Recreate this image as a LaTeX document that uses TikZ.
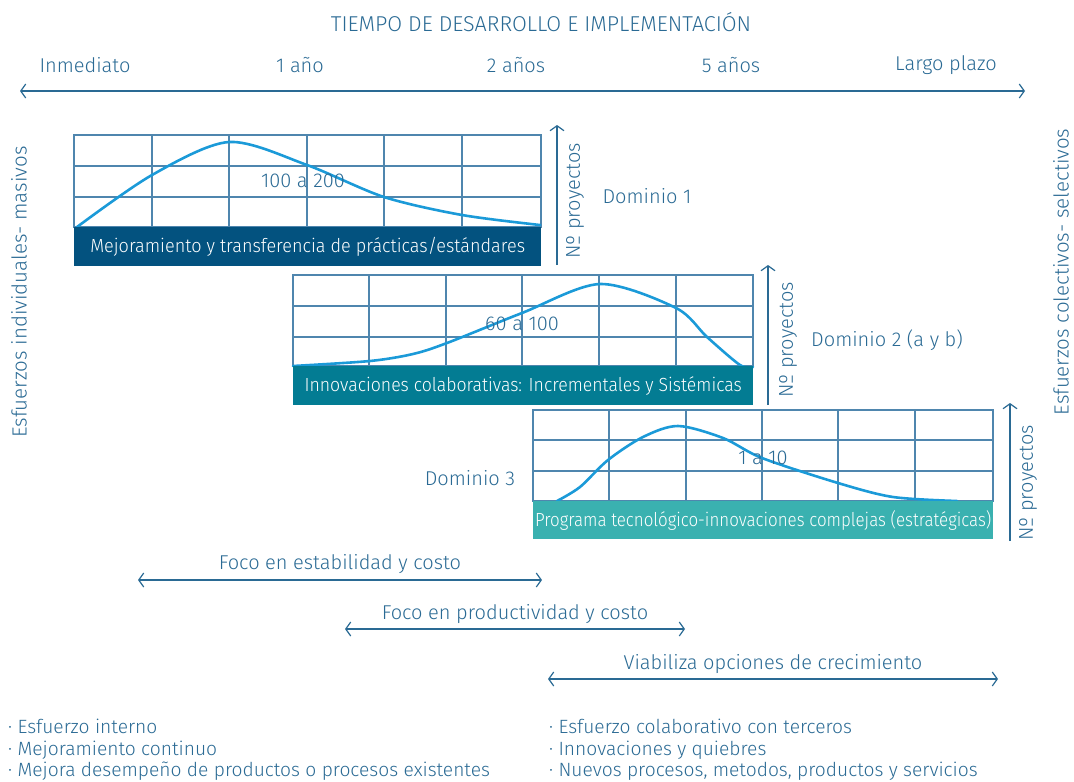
\documentclass[tikz,border=0pt]{standalone}
\usepackage{fontspec}
\usepackage{graphicx}
\setmainfont{Fira Sans Light}
\usetikzlibrary{arrows.meta}

\definecolor{txtblue}{HTML}{2A6A94}
\definecolor{gridblue}{HTML}{4F86AE}
\definecolor{curveblue}{HTML}{1B9AD8}
\definecolor{domA}{HTML}{03527F}
\definecolor{domB}{HTML}{037C93}
\definecolor{domC}{HTML}{3AB1B0}

\tikzstyle{lbl}=[text=txtblue,
                 font=\fontsize{20}{21.5}\selectfont,
                 inner sep=0pt]
\tikzstyle{side}=[text=txtblue,
                  font=\fontsize{20.5}{22}\selectfont,
                  inner sep=0pt,
                  rotate=90]
\tikzstyle{bar}=[shape=rectangle,
                 text=white,
                 font=\fontsize{19}{21.5}\selectfont,
                 inner sep=0pt,
                 anchor=north west]
\tikzstyle{gridline}=[draw=gridblue, line width=1.1pt]
\tikzstyle{curve}=[draw=curveblue, line width=2.6pt, line cap=round]
\tikzstyle{axis}=[draw=txtblue, line width=1.2pt]

\begin{document}
\begin{tikzpicture}[x=1pt,y=-1pt,>={Straight Barb[length=5pt,width=14pt]}]
\useasboundingbox (0,0) rectangle (1074,782);

% time axis
\node[lbl, font=\fontsize{21.5}{24}\selectfont] (title) at (541,22) {TIEMPO DE DESARROLLO E IMPLEMENTACIÓN};
\node[lbl] (t0) at (85,65)  {Inmediato};
\node[lbl] (t1) at (300,65) {1 año};
\node[lbl] (t2) at (516,65) {2 años};
\node[lbl] (t3) at (731,65) {5 años};
\node[lbl] (t4) at (946,65) {Largo plazo};
\coordinate (tl) at (20,91);
\coordinate (tr) at (1025,91);
\draw[axis, <->] (tl) -- (tr);

% side labels
\node[side] (indiv) at (19,292)  {Esfuerzos individuales- masivos};
\node[side] (colec) at (1061,272) {Esfuerzos colectivos- selectivos};

% domain 1
\draw[gridline] (74,135) rectangle (541,227);
\foreach \gx in {152,229,307,384,462} \draw[gridline] (\gx,135) -- (\gx,227);
\foreach \gy in {166,197} \draw[gridline] (74,\gy) -- (541,\gy);
\draw[curve] plot[smooth] coordinates {(77,227) (152,175) (229,142) (307,165) (384,197) (462,215) (540,225)};
\node[lbl] (num1) at (303,181) {100 a 200};
\node[bar, fill=domA, minimum width=467pt, minimum height=39pt] (bar1) at (74,227)
  {\scalebox{0.95}[1]{Mejoramiento y transferencia de prácticas/estándares}};
\coordinate (ax1b) at (557,265);
\coordinate (ax1t) at (557,125);
\draw[axis, ->] (ax1b) -- (ax1t);
\node[lbl, rotate=90] (np1) at (575,201) {Nº proyectos};
\node[lbl] (dom1) at (647,196) {Dominio 1};

% domain 2
\draw[gridline] (293,275) rectangle (753,366);
\foreach \gx in {369,446,522,599,676} \draw[gridline] (\gx,275) -- (\gx,366);
\foreach \gy in {306,337} \draw[gridline] (293,\gy) -- (753,\gy);
\draw[curve] plot[smooth] coordinates {(293,366) (370,361) (413,354) (447,343) (522,313) (600,284) (676,308) (707,337) (740,365) (753,367)};
\node[lbl] (num2) at (522,324) {60 a 100};
\node[bar, fill=domB, minimum width=460pt, minimum height=39pt] (bar2) at (293,366)
  {\scalebox{0.93}[1]{Innovaciones colaborativas: Incrementales y Sistémicas}};
\coordinate (ax2b) at (768,405);
\coordinate (ax2t) at (768,265);
\draw[axis, ->] (ax2b) -- (ax2t);
\node[lbl, rotate=90] (np2) at (788,340) {Nº proyectos};
\node[lbl] (dom2) at (887,340) {Dominio 2 (a y b)};

% domain 3
\draw[gridline] (533,410) rectangle (993,501);
\foreach \gx in {609,686,762,838,915} \draw[gridline] (\gx,410) -- (\gx,501);
\foreach \gy in {440,471} \draw[gridline] (533,\gy) -- (993,\gy);
\draw[curve] plot[smooth] coordinates {(557,501) (580,487) (608,460) (643,437) (678,426) (723,438) (762,458) (838,483) (893,497) (957,501)};
\node[lbl] (num3) at (763,458) {1 a 10};
\node[bar, fill=domC, minimum width=460pt, minimum height=38pt] (bar3) at (533,501)
  {\scalebox{0.89}[1]{Programa tecnológico-innovaciones complejas (estratégicas)}};
\coordinate (ax3b) at (1010,541);
\coordinate (ax3t) at (1010,403);
\draw[axis, ->] (ax3b) -- (ax3t);
\node[lbl, rotate=90] (np3) at (1028,483) {Nº proyectos};
\node[lbl] (dom3) at (470,478) {Dominio 3};

% focus ranges
\node[lbl] (foco1) at (340,564) {Foco en estabilidad y costo};
\coordinate (f1l) at (138,580);
\coordinate (f1r) at (542,580);
\draw[axis, <->] (f1l) -- (f1r);
\node[lbl] (foco2) at (515,614) {Foco en productividad y costo};
\coordinate (f2l) at (345,629);
\coordinate (f2r) at (685,629);
\draw[axis, <->] (f2l) -- (f2r);
\node[lbl] (viab) at (773,664) {Viabiliza opciones de crecimiento};
\coordinate (f3l) at (548,679);
\coordinate (f3r) at (998,679);
\draw[axis, <->] (f3l) -- (f3r);

% lists
\node[lbl, font=\fontsize{19.2}{21.5}\selectfont, anchor=west, align=left] (intern) at (8,750)
  {· Esfuerzo interno\\· Mejoramiento continuo\\· Mejora desempeño de productos o procesos existentes};
\node[lbl, font=\fontsize{19.2}{21.5}\selectfont, anchor=west, align=left] (colab) at (549,750)
  {· Esfuerzo colaborativo con terceros\\· Innovaciones y quiebres\\· Nuevos procesos, metodos, productos y servicios};

\end{tikzpicture}
\end{document}
